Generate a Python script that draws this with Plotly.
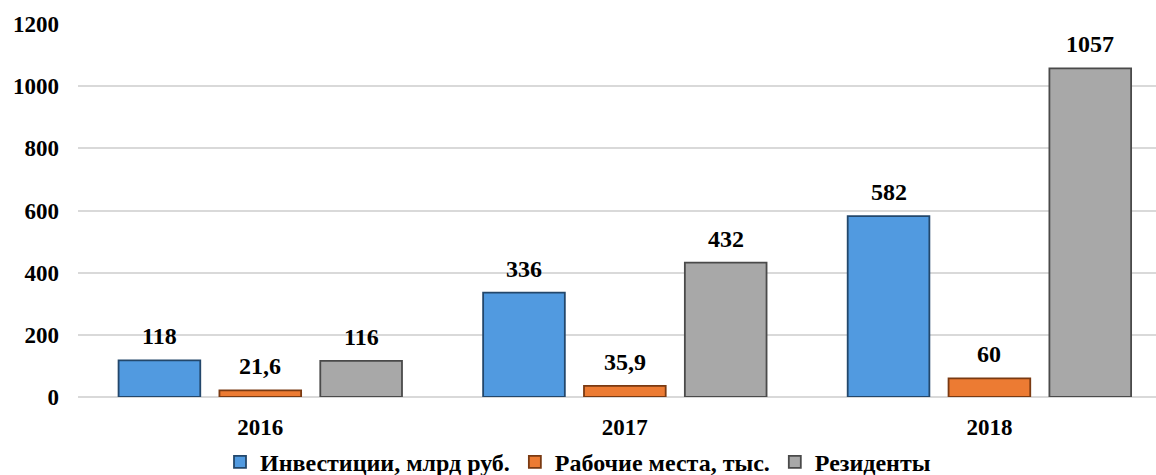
import plotly.graph_objects as go

years = ["2016", "2017", "2018"]
series_names = ["Инвестиции, млрд руб.", "Рабочие места, тыс.", "Резиденты"]
investments = [118, 336, 582]
jobs = [21.6, 35.9, 60]
residents = [116, 432, 1057]
jobs_labels = ["21,6", "35,9", "60"]
inv_labels = ["118", "336", "582"]
res_labels = ["116", "432", "1057"]
y_ticks = [0, 200, 400, 600, 800, 1000, 1200]

colors = ["#519AE0", "#EC7B33", "#A8A8A8"]
edges = ["#23476B", "#7A3A12", "#4A4A4A"]

FONT = "Liberation Serif"
bargap = 0.17
n = 3
slot = (1 - bargap) / n

fig = go.Figure()
all_vals = [investments, jobs, residents]
all_labels = [inv_labels, jobs_labels, res_labels]
for i in range(n):
    fig.add_trace(go.Bar(
        x=list(range(len(years))), y=all_vals[i], name="<b>%s</b>" % series_names[i],
        marker=dict(color=colors[i], line=dict(color=edges[i], width=1.8)),
        hoverinfo="skip",
    ))

annotations = []
for i in range(n):
    off = (i - 1) * slot
    for j, (v, lab) in enumerate(zip(all_vals[i], all_labels[i])):
        annotations.append(dict(
            x=j + off, y=v, xref="x", yref="y", text="<b>%s</b>" % lab,
            showarrow=False, yanchor="middle", yshift=24,
            font=dict(family=FONT, size=24, color="#000"),
        ))

fig.update_layout(
    width=1156, height=475,
    margin=dict(l=78, r=0, t=24, b=78, autoexpand=False),
    paper_bgcolor="white", plot_bgcolor="white",
    barmode="group", bargap=bargap, bargroupgap=0.19,
    font=dict(family=FONT, size=23, color="#000"),
    annotations=annotations,
    showlegend=True,
    legend=dict(orientation="h", xref="container", x=0.5, xanchor="center",
                y=-0.175, yanchor="middle",
                font=dict(family=FONT, size=24, color="#000"),
                itemwidth=30, traceorder="normal"),
    xaxis=dict(
        range=[-0.5, 2.457], automargin=False,
        tickmode="array", tickvals=list(range(len(years))),
        ticktext=["<b>%s</b>" % y for y in years],
        showgrid=False, zeroline=False, showline=False,
        ticks="", ticklabelstandoff=14,
        tickfont=dict(family=FONT, size=23, color="#000"),
    ),
    yaxis=dict(
        range=[0, 1200], automargin=False, tickmode="array", tickvals=y_ticks,
        ticktext=["<b>%d</b>" % t for t in y_ticks],
        showgrid=True, gridcolor="#D9D9D9", gridwidth=1.5,
        zeroline=True, zerolinecolor="#D9D9D9", zerolinewidth=1.5,
        showline=False, ticks="", ticklabelstandoff=18,
        tickfont=dict(family=FONT, size=23, color="#000"),
    ),
)

fig.write_html("out.html", config={"displayModeBar": False},
               post_script="document.body.style.margin='0';")
